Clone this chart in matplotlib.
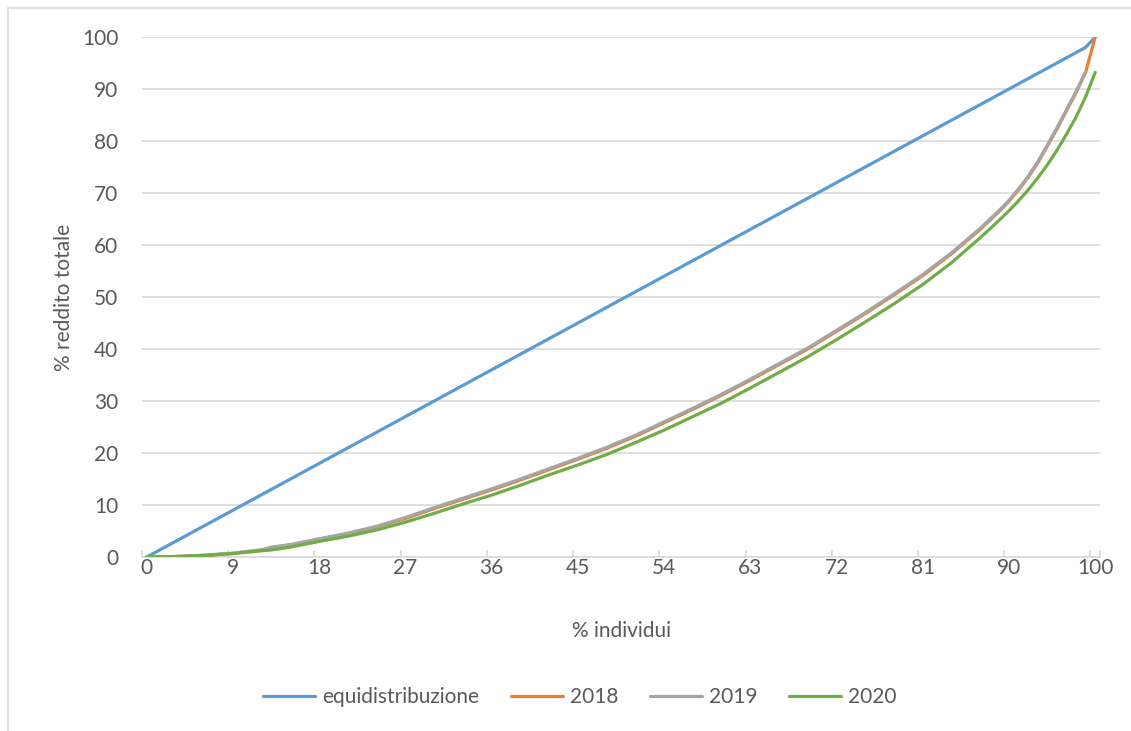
import matplotlib
matplotlib.use("Agg")
from matplotlib import pyplot as plt
from matplotlib.patches import Rectangle

# asse a categorie come in Excel: 0..98 e poi 100
categorie = list(range(0, 99)) + [100]
posizione = {c: i for i, c in enumerate(categorie)}

# retta di equidistribuzione
x_equi = [0, 98, 100]
y_equi = [0, 98, 100]

# curve di Lorenz
x_curve = [0, 3, 6, 9, 12, 13, 15, 18, 21, 24, 27, 30, 33, 36, 39, 42, 45, 48,
           51, 54, 57, 60, 63, 66, 69, 72, 75, 78, 81, 84, 87, 89, 90, 91, 92,
           93, 94, 95, 96, 97, 98, 100]
y_2018 = [0, 0.1, 0.3, 0.7, 1.3, 1.8, 2.3, 3.4, 4.5, 5.8, 7.4, 9.3, 11.1, 12.9,
          14.8, 16.8, 18.8, 20.9, 23.2, 25.8, 28.4, 31.1, 34.0, 37.0, 40.0,
          43.4, 46.8, 50.4, 54.1, 58.3, 63.0, 66.5, 68.4, 70.6, 73.0, 75.8,
          79.0, 82.3, 85.8, 89.3, 93.2, 100]
y_2019 = [0, 0.1, 0.35, 0.75, 1.4, 1.9, 2.4, 3.5, 4.6, 5.9, 7.6, 9.5, 11.3,
          13.1, 15.0, 17.0, 19.0, 21.1, 23.4, 26.0, 28.6, 31.3, 34.2, 37.2,
          40.2, 43.6, 47.0, 50.6, 54.3, 58.5, 63.2, 66.7, 68.6, 70.8, 73.2,
          76.0, 79.2, 82.5, 86.0, 89.5, 93.3]
y_2020 = [0, 0.05, 0.3, 0.65, 1.2, 1.35, 1.9, 3.0, 4.0, 5.2, 6.7, 8.4, 10.2,
          11.9, 13.8, 15.8, 17.7, 19.7, 22.0, 24.4, 27.0, 29.6, 32.5, 35.5,
          38.5, 41.8, 45.2, 48.7, 52.4, 56.6, 61.4, 64.8, 66.6, 68.5, 70.6,
          72.9, 75.4, 78.2, 81.3, 84.6, 88.5, 93.2]

etichette_x = [0, 9, 18, 27, 36, 45, 54, 63, 72, 81, 90, 100]

plt.rcParams['font.family'] = ['Lato', 'DejaVu Sans']
grigio_testo = '#595959'
griglia = '#D9D9D9'

fig = plt.figure(figsize=(11.31, 7.31), dpi=100)
fig.patches.append(Rectangle((8 / 1131, -0.1), 1.2, 1 - 8 / 731 + 0.1,
                             transform=fig.transFigure, fill=False,
                             edgecolor=griglia, linewidth=1.2))
ax = fig.add_axes([142 / 1131, 1 - 557 / 731, 958 / 1131, 520 / 731])


def pos(lista):
    return [posizione[v] for v in lista]


ax.plot(pos(x_equi), y_equi, color='#5B9BD5', lw=2.3, label='equidistribuzione',
        solid_capstyle='round', zorder=3)
ax.plot(pos(x_curve), y_2018, color='#ED7D31', lw=2.3, label='2018',
        solid_capstyle='round', zorder=3)
ax.plot(pos(x_curve[:len(y_2019)]), y_2019, color='#A5A5A5', lw=2.3,
        label='2019', solid_capstyle='round', zorder=3)
ax.plot(pos(x_curve), y_2020, color='#70AD47', lw=2.3, label='2020',
        solid_capstyle='round', zorder=3)

ax.set_xlim(-0.5, len(categorie) - 0.5)
ax.set_ylim(0, 100)
ax.set_yticks(range(0, 101, 10))
ax.yaxis.grid(True, color=griglia, lw=1.2)
ax.set_axisbelow(True)

# tacche tra le categorie, etichette al centro
ax.set_xticks([i - 0.5 for i in range(0, 100, 9)] + [99.5])
ax.set_xticklabels([])
ax.set_xticks(pos(etichette_x), minor=True)
ax.set_xticklabels([str(v) for v in etichette_x], minor=True)
ax.tick_params(axis='x', which='major', direction='in', length=5,
               color=griglia, width=1.2)
ax.tick_params(axis='x', which='minor', length=0, pad=1, labelsize=15,
               labelcolor=grigio_testo)
ax.tick_params(axis='y', length=0, pad=17, labelsize=15,
               labelcolor=grigio_testo)

for lato in ['top', 'right', 'left']:
    ax.spines[lato].set_visible(False)
ax.spines['bottom'].set_color(griglia)
ax.spines['bottom'].set_linewidth(1.2)

ax.set_xlabel('% individui', fontsize=15, color=grigio_testo, labelpad=31)
ax.set_ylabel('% reddito totale', fontsize=15, color=grigio_testo, labelpad=6)

fig.legend(loc='center', bbox_to_anchor=(580 / 1131, 1 - 697 / 731), ncol=4,
           frameon=False, fontsize=15, labelcolor=grigio_testo,
           handlelength=2.5, handletextpad=0.35, columnspacing=1.5)

fig.savefig('out.png', dpi=100)
